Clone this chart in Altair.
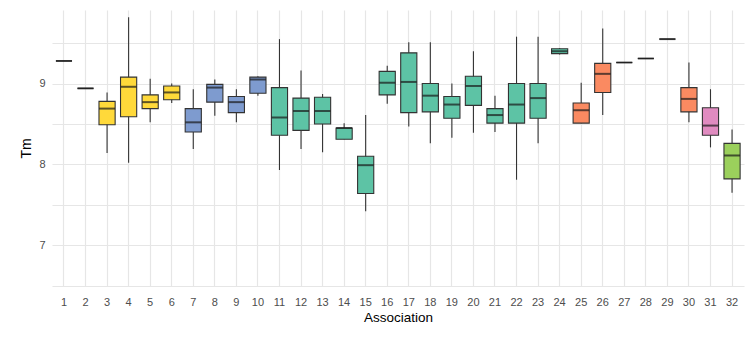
import altair as alt
import pandas as pd

association = list(range(1, 33))
lower  = [9.28, 8.94, 8.14, 8.02, 8.52, 8.76, 8.19, 8.60, 8.52, 8.85, 7.93, 8.19, 8.15, 8.31, 7.42, 8.75,
          8.47, 8.26, 8.33, 8.39, 8.40, 7.81, 8.26, 9.36, 8.51, 8.61, 9.26, 9.31, 9.55, 8.52, 8.21, 7.65]
q1     = [9.28, 8.94, 8.49, 8.59, 8.69, 8.80, 8.40, 8.77, 8.64, 8.88, 8.36, 8.42, 8.50, 8.31, 7.64, 8.86,
          8.64, 8.65, 8.57, 8.73, 8.51, 8.51, 8.57, 9.37, 8.51, 8.89, 9.26, 9.31, 9.55, 8.65, 8.36, 7.82]
median = [9.28, 8.94, 8.69, 8.96, 8.77, 8.89, 8.52, 8.95, 8.77, 9.05, 8.58, 8.66, 8.66, 8.45, 7.99, 9.01,
          9.02, 8.85, 8.74, 8.97, 8.61, 8.74, 8.82, 9.40, 8.67, 9.12, 9.26, 9.31, 9.55, 8.81, 8.48, 8.11]
q3     = [9.28, 8.94, 8.78, 9.08, 8.86, 8.97, 8.69, 8.99, 8.84, 9.08, 8.95, 8.82, 8.83, 8.45, 8.10, 9.15,
          9.38, 9.00, 8.84, 9.09, 8.69, 9.00, 9.00, 9.43, 8.76, 9.25, 9.26, 9.31, 9.55, 8.95, 8.70, 8.26]
upper  = [9.28, 8.94, 8.89, 9.82, 9.06, 9.00, 8.93, 9.05, 8.93, 9.09, 9.55, 9.16, 8.87, 8.51, 8.61, 9.22,
          9.51, 9.51, 9.00, 9.40, 8.85, 9.58, 9.58, 9.44, 9.01, 9.68, 9.26, 9.31, 9.55, 9.26, 8.93, 8.43]
group  = ["A"] * 6 + ["B"] * 4 + ["C"] * 14 + ["D"] * 6 + ["E"] + ["F"]

group_names = ["A", "B", "C", "D", "E", "F"]
group_colors = ["#FFD93A", "#7E9BCF", "#5DC3A5", "#FA8A61", "#E08BC0", "#9BD05C"]

df = pd.DataFrame({
    "Association": association, "lower": lower, "q1": q1, "median": median,
    "q3": q3, "upper": upper, "group": group,
})

ydom = [6.495, 9.91]
grid_vals = [6.5, 7, 7.5, 8, 8.5, 9, 9.5]

x = alt.X("Association:O",
          scale=alt.Scale(paddingInner=0.25, paddingOuter=0.18),
          axis=alt.Axis(title="Association", labelAngle=0, grid=True, bandPosition=0.5,
                        gridColor="#e6e6e6", gridWidth=1.2, domain=False, ticks=False,
                        labelColor="#4d4d4d", labelFontSize=11, labelPadding=10,
                        titleFontSize=13.5, titleColor="#000000", titleFontWeight="normal",
                        titlePadding=3, labelFont="Liberation Sans", titleFont="Liberation Sans"))

yscale = alt.Scale(domain=ydom, nice=False, zero=False)

base = alt.Chart(df)

whisk = base.mark_rule(color="#333333", strokeWidth=1.1).encode(
    x=x,
    y=alt.Y("lower:Q", scale=yscale,
            axis=alt.Axis(title="Tm", values=grid_vals,
                          labelExpr="datum.value % 1 == 0 ? format(datum.value, 'd') : ''",
                          grid=True, gridColor="#e6e6e6", gridWidth=1.2, domain=False, ticks=False,
                          labelColor="#4d4d4d", labelFontSize=11, labelPadding=7,
                          titleFontSize=14, titleColor="#000000", titleFontWeight="normal",
                          titlePadding=5, labelFont="Liberation Sans", titleFont="Liberation Sans")),
    y2="upper:Q",
)

box = base.mark_bar(stroke="#333333", strokeWidth=1.1).encode(
    x=x,
    y=alt.Y("q1:Q", scale=yscale),
    y2="q3:Q",
    color=alt.Color("group:N", scale=alt.Scale(domain=group_names, range=group_colors), legend=None),
)

med = base.mark_tick(color="#1a1a1a", thickness=2, size=16).encode(
    x=x,
    y=alt.Y("median:Q", scale=yscale),
)

chart = alt.layer(whisk, box, med).properties(
    width=692, height=276,
    background="white",
    padding={"left": 11, "top": 2, "right": 2, "bottom": 0},
).configure_view(stroke=None)

chart.save("out.html", embed_options={"renderer": "svg", "actions": False})
